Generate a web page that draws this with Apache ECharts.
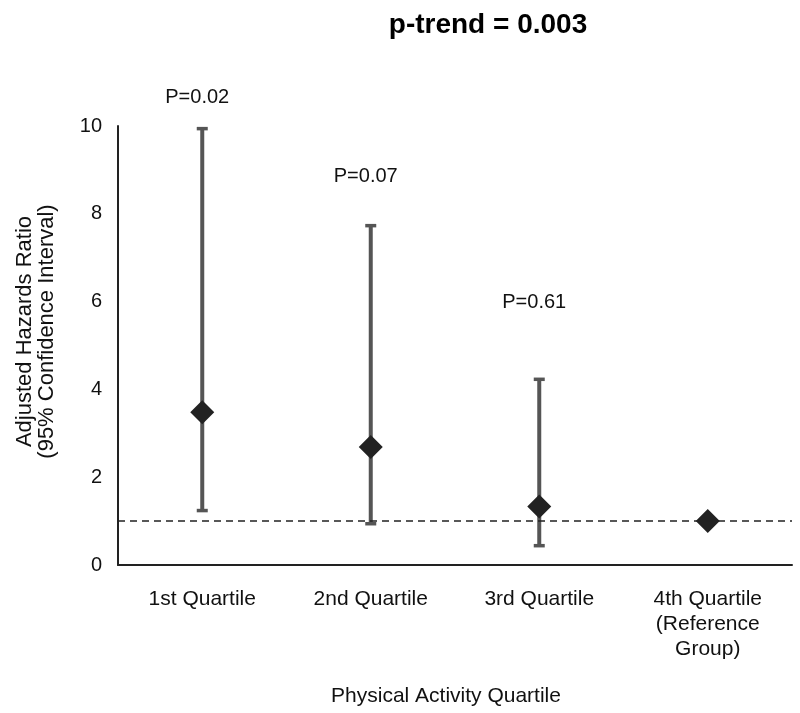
<!DOCTYPE html>
<html>
<head>
<meta charset="utf-8">
<script src="https://cdn.jsdelivr.net/npm/echarts@6/dist/echarts.min.js"></script>
<style>html,body{margin:0;padding:0;background:#fff}#c{width:800px;height:713px}</style>
</head>
<body>
<div id="c"></div>
<script>
var categories = ['1st Quartile', '2nd Quartile', '3rd Quartile', '4th Quartile\n(Reference\nGroup)'];
var hazardRatio = [3.48, 2.69, 1.33, 1.0];
var ciLower = [1.24, 0.94, 0.44, null];
var ciUpper = [9.94, 7.73, 4.23, null];
var pValueLabels = ['P=0.02', 'P=0.07', 'P=0.61', null];
var pLabelLevel = [10.66, 8.84, 5.97, null];
var referenceLine = 1;
var yTicks = [0, 2, 4, 6, 8, 10];

var FONT = '"Liberation Sans", Arial, sans-serif';
var chart = echarts.init(document.getElementById('c'), null, {renderer: 'canvas'});

var errData = categories.map(function (c, i) { return [i, ciLower[i], ciUpper[i]]; }).filter(function (d) { return d[1] != null; });
var pData = categories.map(function (c, i) { return {value: [i, pLabelLevel[i]], name: pValueLabels[i]}; }).filter(function (d) { return d.name != null; });

chart.setOption({
  animation: false,
  title: [
    {text: 'p-trend = 0.003', left: 483, top: 6, textAlign: 'center',
     textStyle: {fontFamily: FONT, fontSize: 28, fontWeight: 'bold', color: '#000'}},
    {text: 'Physical Activity Quartile', left: 441, top: 681, textAlign: 'center',
     textStyle: {fontFamily: FONT, fontSize: 21, fontWeight: 'normal', color: '#111'}}
  ],
  grid: {left: 118, right: 8, top: 126, bottom: 148},
  xAxis: {
    type: 'category', data: categories, boundaryGap: true,
    axisLine: {lineStyle: {color: '#222', width: 2}},
    axisTick: {show: false},
    axisLabel: {fontFamily: FONT, fontSize: 21, color: '#111', margin: 22, lineHeight: 25}
  },
  yAxis: {
    type: 'value', min: 0, max: 10, interval: 2,
    name: 'Adjusted Hazards Ratio\n(95% Confidence Interval)',
    nameLocation: 'middle', nameGap: 60, nameRotate: 90,
    nameTextStyle: {fontFamily: FONT, fontSize: 22, color: '#111', lineHeight: 22, padding: [0, 0, 0, 28]},
    axisLine: {show: true, lineStyle: {color: '#222', width: 2}},
    axisTick: {show: false},
    splitLine: {show: false},
    axisLabel: {fontFamily: FONT, fontSize: 20, color: '#111', margin: 16,
      formatter: function (v) { return yTicks.indexOf(v) >= 0 ? String(v) : ''; }}
  },
  series: [
    {
      type: 'custom', z: 2,
      data: errData,
      renderItem: function (params, api) {
        var x = api.value(0);
        var lo = api.coord([x, api.value(1)]);
        var hi = api.coord([x, api.value(2)]);
        var cw = 5.5;
        var st = {stroke: '#555', lineWidth: 4};
        return {type: 'group', children: [
          {type: 'line', shape: {x1: lo[0], y1: lo[1], x2: hi[0], y2: hi[1]}, style: st},
          {type: 'line', shape: {x1: hi[0] - cw, y1: hi[1], x2: hi[0] + cw, y2: hi[1]}, style: {stroke: '#555', lineWidth: 3.5}},
          {type: 'line', shape: {x1: lo[0] - cw, y1: lo[1], x2: lo[0] + cw, y2: lo[1]}, style: {stroke: '#555', lineWidth: 3.5}}
        ]};
      }
    },
    {
      type: 'scatter', z: 4,
      data: hazardRatio,
      symbol: 'diamond', symbolSize: [24, 24],
      itemStyle: {color: '#222', opacity: 1},
      markLine: {
        silent: true, symbol: ['none', 'none'], label: {show: false},
        lineStyle: {color: '#222', type: [7, 5], width: 1.5},
        data: [{yAxis: referenceLine}]
      }
    },
    {
      type: 'scatter', z: 5, clip: false,
      data: pData,
      symbolSize: 0,
      itemStyle: {opacity: 1},
      label: {show: true, position: 'inside', offset: [-5, 0], formatter: function (p) { return p.name; },
        fontFamily: FONT, fontSize: 20, color: '#111'}
    }
  ]
});
</script>
</body>
</html>
